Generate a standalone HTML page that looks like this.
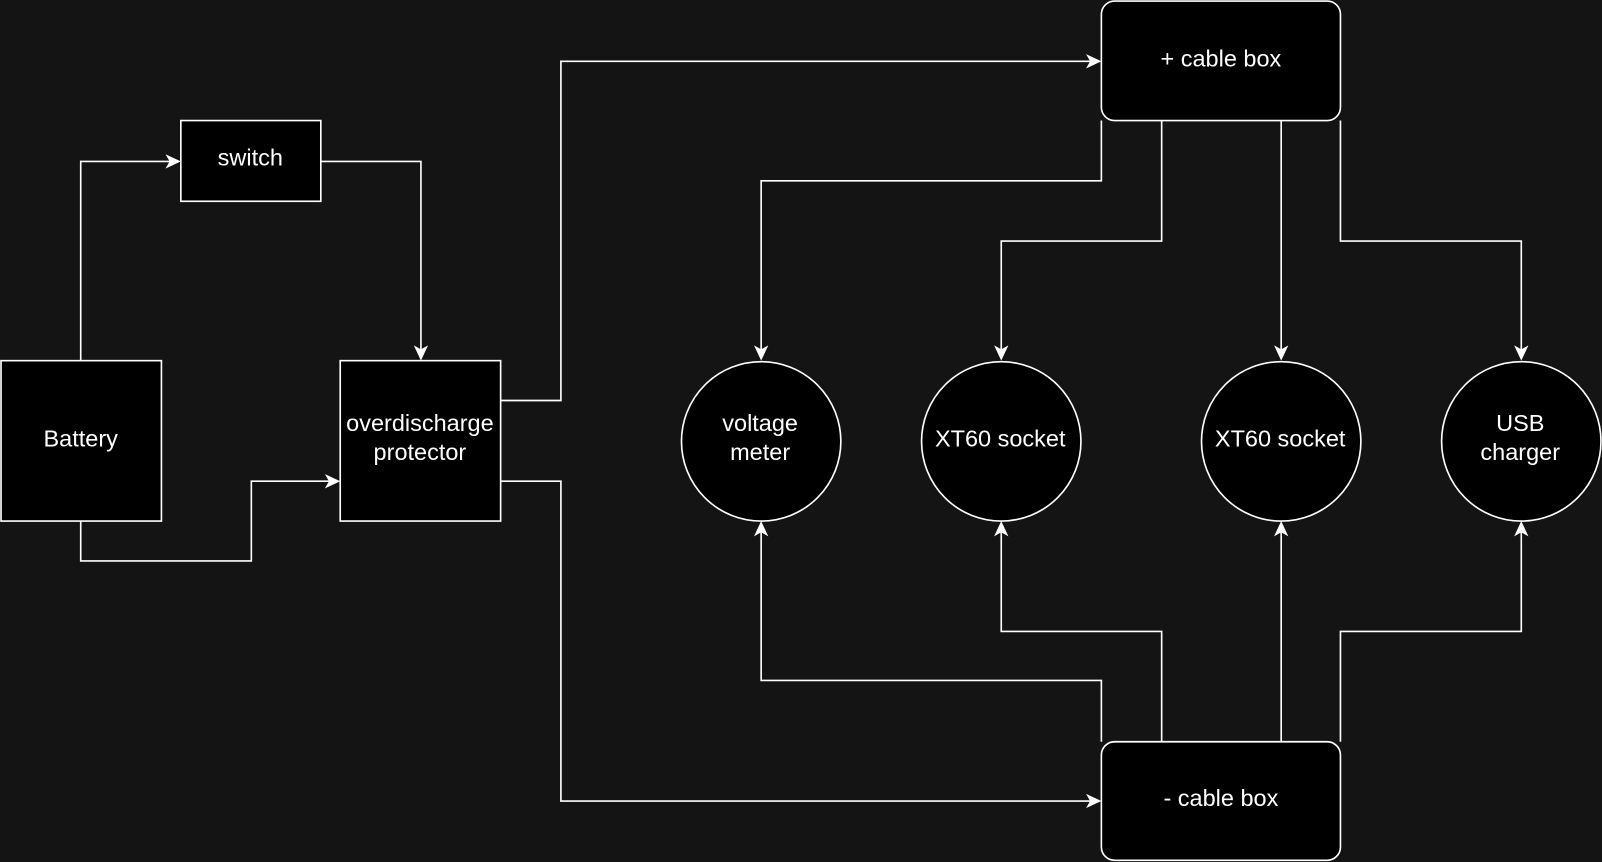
<!DOCTYPE html>
<html><head><meta charset="utf-8"><style>
html,body{margin:0;padding:0;background:#141414;width:1602px;height:862px;overflow:hidden}
svg{display:block}
text{font-family:"Liberation Sans",Arial,sans-serif;font-size:23px;fill:#fff;text-anchor:middle}
</style></head><body>
<svg width="1602" height="862" viewBox="0 0 1568 843.7" preserveAspectRatio="none">
<defs>
<marker id="a" markerWidth="16" markerHeight="16" refX="13" refY="7" orient="auto" markerUnits="userSpaceOnUse">
<path d="M0,0 L15,7 L0,14 L4,7 Z" fill="#fff"/>
</marker>
</defs>
<rect width="1568" height="844" fill="#141414"/>
<g fill="none" stroke="#fff" stroke-width="1.6">
<path d="M79,353 V158 H175" marker-end="url(#a)"/>
<path d="M314,158 H412 V351" marker-end="url(#a)"/>
<path d="M79,510 V549 H246 V471 H331" marker-end="url(#a)"/>
<path d="M490,392 H549 V60 H1076" marker-end="url(#a)"/>
<path d="M490,471 H549 V784 H1076" marker-end="url(#a)"/>
<path d="M1078,118 V177 H745 V351" marker-end="url(#a)"/>
<path d="M1137,118 V236 H980 V351" marker-end="url(#a)"/>
<path d="M1254,118 V351" marker-end="url(#a)"/>
<path d="M1312,118 V236 H1489 V351" marker-end="url(#a)"/>
<path d="M1078,726 V666 H745 V512" marker-end="url(#a)"/>
<path d="M1137,726 V618 H980 V512" marker-end="url(#a)"/>
<path d="M1254,726 V512" marker-end="url(#a)"/>
<path d="M1312,726 V618 H1489 V512" marker-end="url(#a)"/>
</g>
<g fill="#000" stroke="#fff" stroke-width="1.6">
<rect x="1" y="353" width="157" height="157"/>
<rect x="177" y="118" width="137" height="79"/>
<rect x="333" y="353" width="157" height="157"/>
<rect x="1078" y="1" width="234" height="117" rx="13"/>
<rect x="1078" y="726" width="234" height="116" rx="13"/>
<circle cx="745" cy="432" r="78"/>
<circle cx="980" cy="432" r="78"/>
<circle cx="1254" cy="432" r="78"/>
<circle cx="1489" cy="432" r="78"/>
</g>
<text x="79" y="437">Battery</text>
<text x="245" y="162">switch</text>
<text x="411" y="422">overdischarge</text>
<text x="411" y="450">protector</text>
<text x="1195" y="65">+ cable box</text>
<text x="1195" y="789">- cable box</text>
<text x="744" y="422">voltage</text>
<text x="744" y="450">meter</text>
<text x="979" y="437">XT60 socket</text>
<text x="1253" y="437">XT60 socket</text>
<text x="1488" y="422">USB</text>
<text x="1488" y="450">charger</text>
</svg>
</body></html>
